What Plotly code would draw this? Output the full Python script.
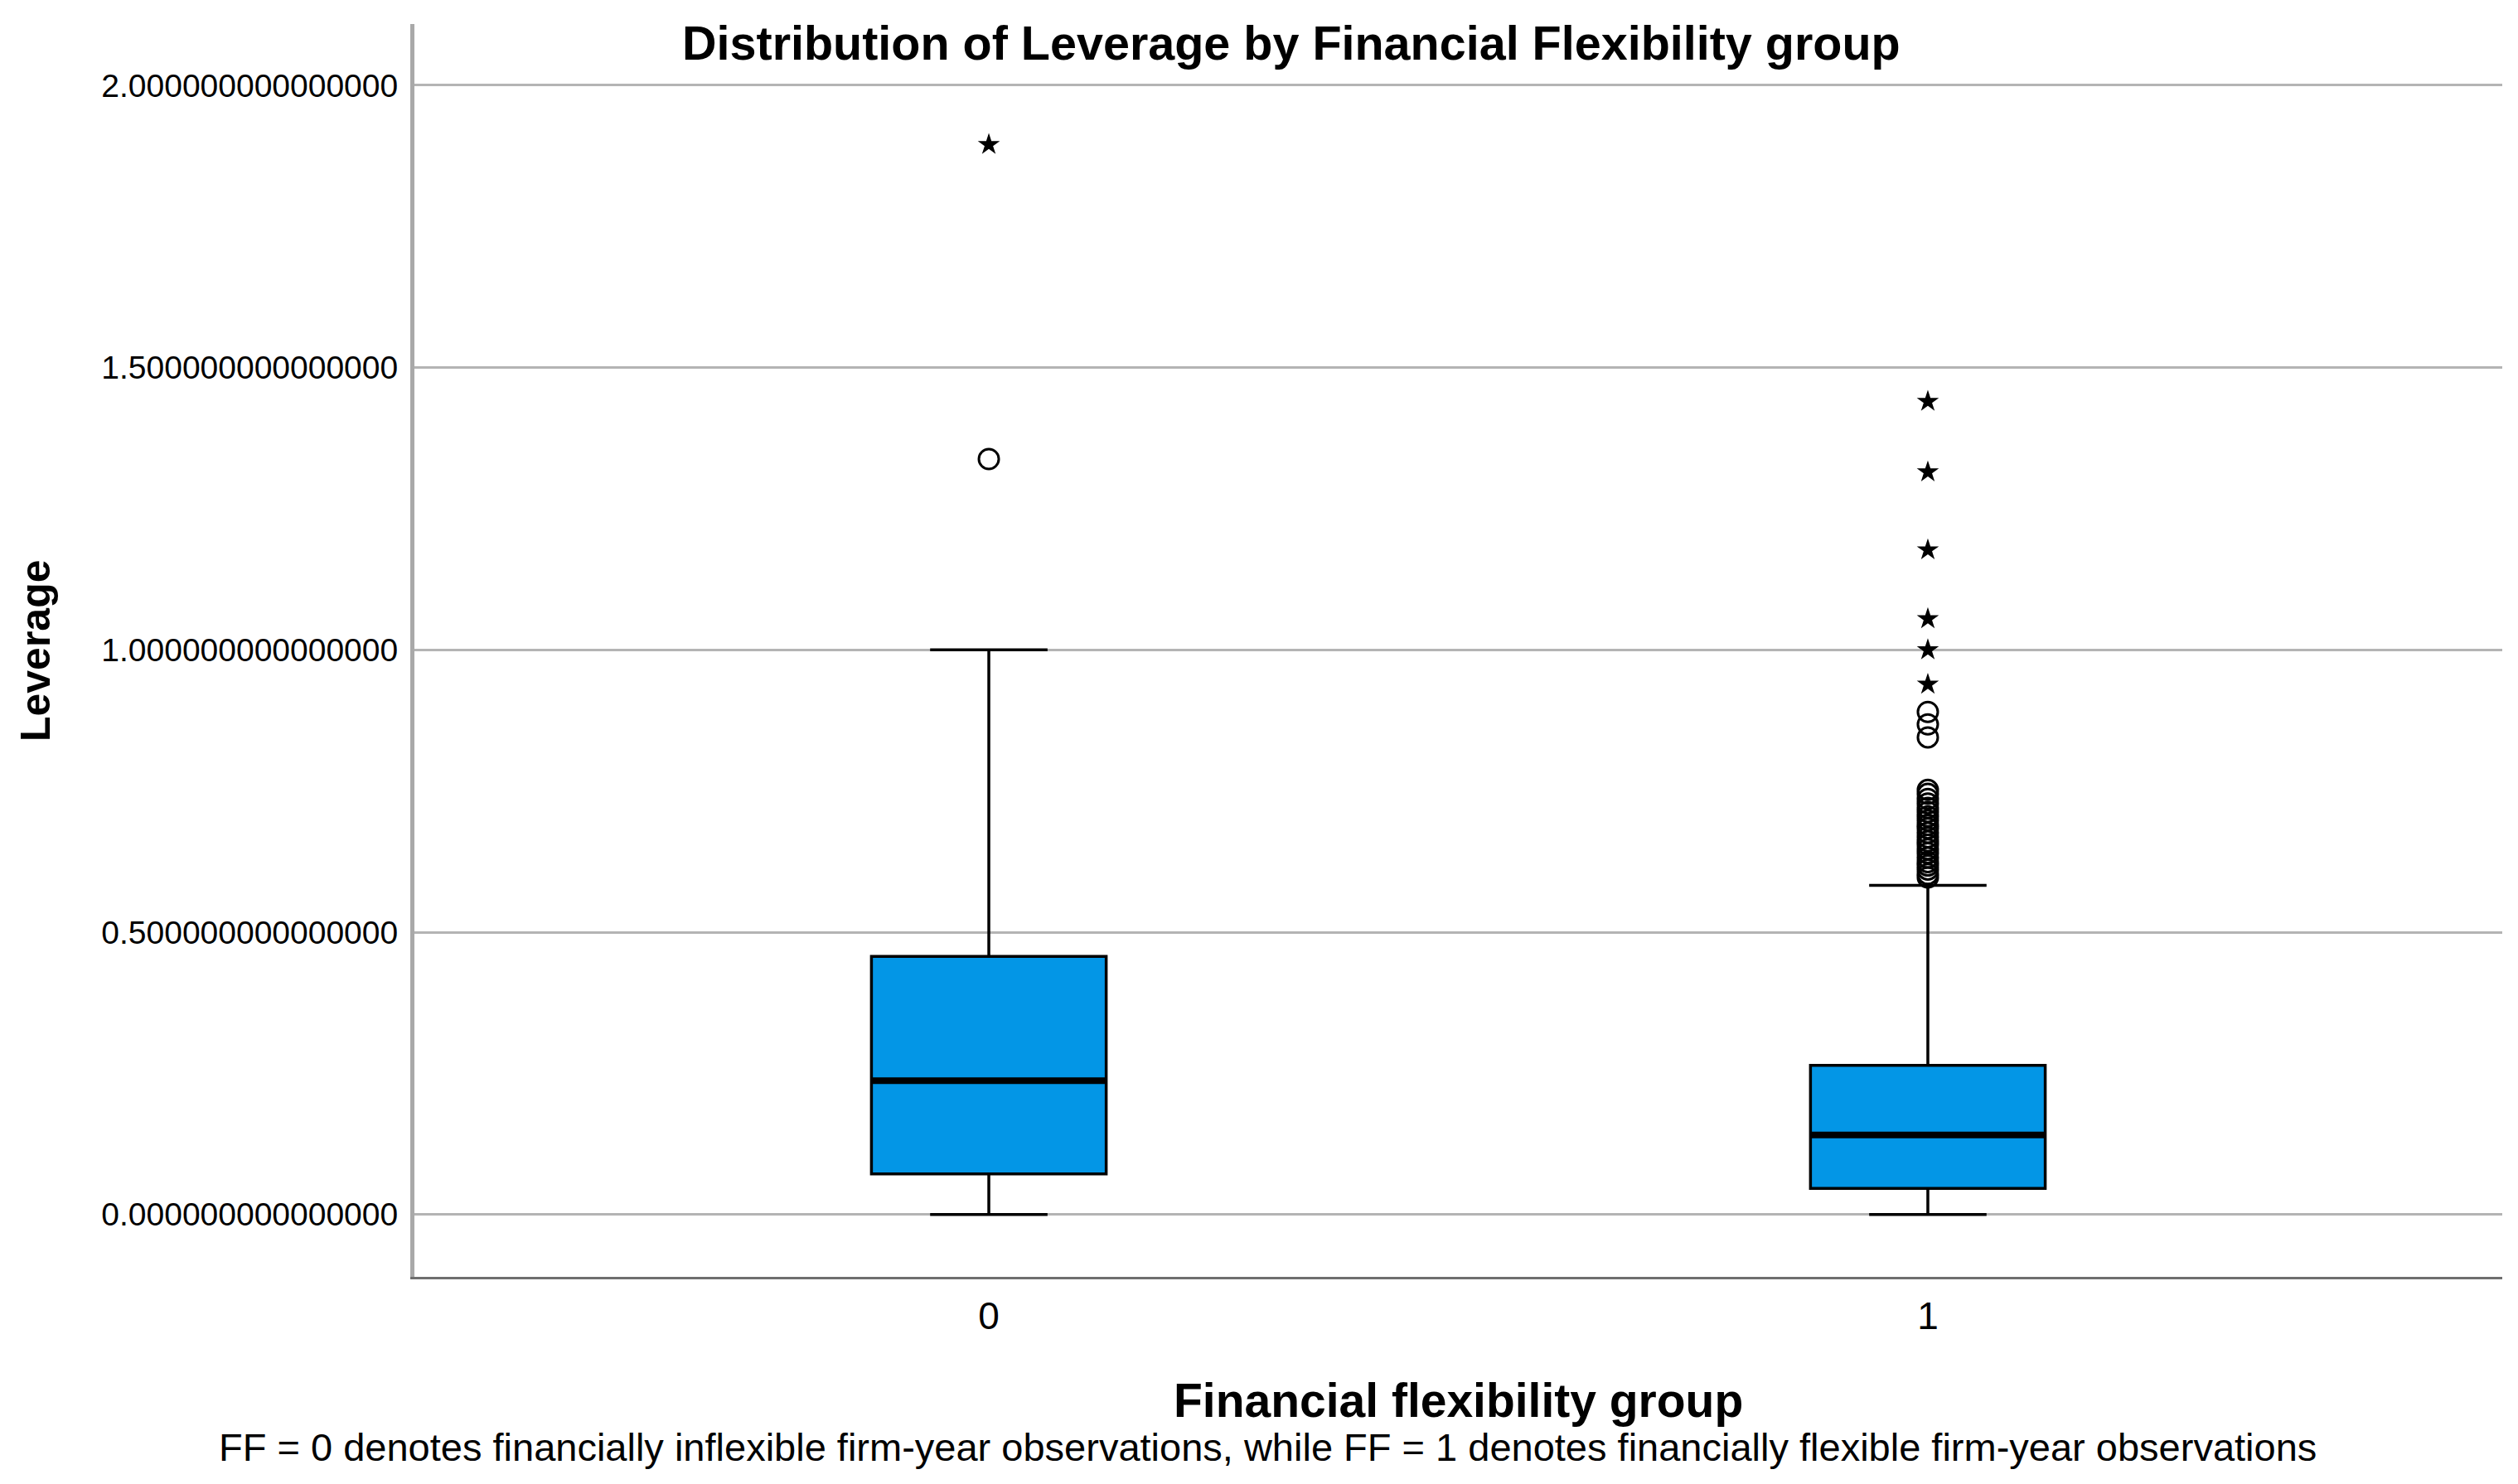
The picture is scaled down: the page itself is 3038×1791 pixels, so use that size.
import plotly.graph_objects as go

# ---- data ----
groups = [0, 1]
group_labels = ["0", "1"]
q1 = [0.072, 0.046]
median = [0.237, 0.141]
q3 = [0.457, 0.264]
lower_whisker = [0.0, 0.0]
upper_whisker = [1.0, 0.583]

# outliers (circles = mild, stars = extreme)
g0_circles = [1.338]
g0_stars = [1.895]
g1_circles = [0.597, 0.603, 0.611, 0.618, 0.624, 0.632, 0.640, 0.647, 0.655, 0.661,
              0.668, 0.676, 0.684, 0.690, 0.698, 0.705, 0.713, 0.720, 0.728, 0.736,
              0.745, 0.752, 0.845, 0.868, 0.890]
g1_stars = [0.939, 1.000, 1.055, 1.177, 1.315, 1.440]

y_ticks = [0.0, 0.5, 1.0, 1.5, 2.0]

title_text = "Distribution of Leverage by Financial Flexibility group"
x_title = "Financial flexibility group"
y_title = "Leverage"
footnote = ("FF = 0 denotes financially inflexible firm-year observations, "
            "while FF = 1 denotes financially flexible firm-year observations")

FONT = "Liberation Sans, Arial, sans-serif"
BOX_W = 0.25
BLUE = "#0396E6"

fig = go.Figure()

fig.add_trace(go.Box(
    x=groups, q1=q1, median=median, q3=q3,
    lowerfence=lower_whisker, upperfence=upper_whisker,
    width=BOX_W, whiskerwidth=0.5,
    fillcolor=BLUE, line=dict(color="black", width=3.5),
    boxpoints=False, showlegend=False, hoverinfo="skip",
))

# thicker median lines
mx, my = [], []
for g, m in zip(groups, median):
    mx += [g - BOX_W / 2, g + BOX_W / 2, None]
    my += [m, m, None]
fig.add_trace(go.Scatter(x=mx, y=my, mode="lines",
                         line=dict(color="black", width=8),
                         showlegend=False, hoverinfo="skip"))

circ_x = [groups[0]] * len(g0_circles) + [groups[1]] * len(g1_circles)
circ_y = g0_circles + g1_circles
star_x = [groups[0]] * len(g0_stars) + [groups[1]] * len(g1_stars)
star_y = g0_stars + g1_stars

fig.add_trace(go.Scatter(x=circ_x, y=circ_y, mode="markers",
                         marker=dict(symbol="circle-open", size=24, color="black",
                                     line=dict(width=3, color="black")),
                         showlegend=False, hoverinfo="skip"))
fig.add_trace(go.Scatter(x=star_x, y=star_y, mode="markers",
                         marker=dict(symbol="star", size=20, color="black",
                                     line=dict(width=0)),
                         showlegend=False, hoverinfo="skip"))

# page body has an 8px default margin; figure is sized so the page matches 3038x1791
fig.update_layout(
    width=3030, height=1783,
    margin=dict(l=492, r=19, t=21, b=250),
    paper_bgcolor="white", plot_bgcolor="white",
    font=dict(family=FONT, color="black"),
    showlegend=False,
    xaxis=dict(
        range=[-0.6117, 1.6117],
        tickmode="array", tickvals=groups, ticktext=group_labels,
        tickfont=dict(size=46, family=FONT, color="black"),
        showgrid=False, zeroline=False,
        showline=True, linecolor="#6e6e6e", linewidth=3,
        ticks="", ticklabelstandoff=5,
    ),
    yaxis=dict(
        range=[-0.1105, 2.1085],
        tickmode="array", tickvals=y_ticks, tickformat=".15f",
        tickfont=dict(size=39, family=FONT, color="black"),
        showgrid=True, gridcolor="#b4b4b4", gridwidth=2.5,
        zeroline=False,
        showline=True, linecolor="#a9a9a9", linewidth=5,
        ticks="", ticklabelstandoff=7,
    ),
    annotations=[
        dict(text="<b>" + title_text + "</b>", xref="paper", yref="paper",
             x=0.42, y=0.9848, xanchor="center", yanchor="middle",
             showarrow=False, font=dict(size=57.5, family=FONT, color="black")),
        dict(text="<b>" + x_title + "</b>", xref="paper", yref="paper",
             x=0.5, y=-0.0985, xanchor="center", yanchor="middle",
             showarrow=False, font=dict(size=57, family=FONT, color="black")),
        dict(text="<b>" + y_title + "</b>", xref="paper", yref="paper",
             x=-0.1814, y=0.5, xanchor="center", yanchor="middle", textangle=-90,
             showarrow=False, font=dict(size=50, family=FONT, color="black")),
        dict(text=footnote, xref="paper", yref="paper",
             x=0.4085, y=-0.1356, xanchor="center", yanchor="middle",
             showarrow=False, font=dict(size=47, family=FONT, color="black")),
    ],
)

fig.write_html("out.html")
